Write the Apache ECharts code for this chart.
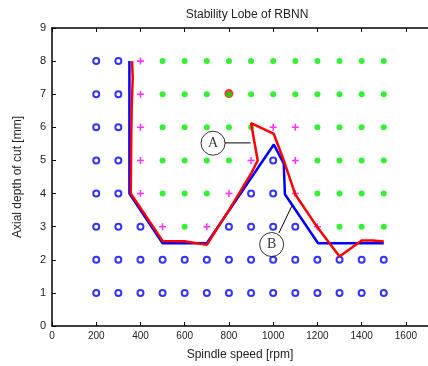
<!DOCTYPE html>
<html>
<head>
<meta charset="utf-8">
<script src="https://cdn.jsdelivr.net/npm/echarts@6/dist/echarts.min.js"></script>
<style>
  html, body { margin: 0; padding: 0; background: #fff; }
  #main { width: 428px; height: 366px; }
</style>
</head>
<body>
<div id="main"></div>
<script>
// grid of test points: speed [rpm] x depth [mm]
const speeds = [200, 300, 400, 500, 600, 700, 800, 900, 1000, 1100, 1200, 1300, 1400, 1500]
const depths = [8, 7, 6, 5, 4, 3, 2, 1]
// o = stable, + = marginal, * = chatter (one string per depth row, one char per speed)
const stateRows = [
  'oo+***********',
  'oo+***********',
  'oo+*****++****',
  'oo+****+o+****',
  'oo+***+oo+****',
  'ooo+*+oooo+***',
  'oooooooooooooo',
  'oooooooooooooo'
]

// stability lobe lines
const blueLobe = [[350, 8], [350, 4], [500, 2.5], [700, 2.5], [1003, 5.48], [1048, 4.9], [1053, 3.98], [1203, 2.5], [1500, 2.5]]
const redLobe = [[362, 8], [365, 7.5], [360, 6.5], [358, 5.5], [357, 4.6], [356, 4.0], [500, 2.57], [600, 2.56], [700, 2.45],
  [800, 3.5], [900, 4.6], [930, 5.0], [900, 6.13], [1003, 5.8], [1048, 5.0], [1100, 3.97], [1200, 2.98], [1300, 2.1],
  [1400, 2.58], [1450, 2.58], [1500, 2.55]]
const redSpot = [[800, 7.02]]

// callouts
const calloutA = { at: [728, 5.52], text: 'A' }
const leaderA = [[782, 5.53], [898, 5.53]]
const calloutB = { at: [993, 2.46], text: 'B' }
const leaderB = [[1026, 2.81], [1084, 3.62]]

const stable = [], marginal = [], chatter = []
stateRows.forEach((row, r) => {
  row.split('').forEach((c, i) => {
    const p = [speeds[i], depths[r]]
    if (c === 'o') stable.push(p)
    else if (c === '+') marginal.push(p)
    else chatter.push(p)
  })
})

const txt = '#222'
const font = 'Liberation Sans, Arial, sans-serif'

const chart = echarts.init(document.getElementById('main'), null, { renderer: 'canvas' })

const axisCommon = {
  axisLine: { show: true, lineStyle: { color: '#000', width: 1.5 } },
  axisTick: { show: true, inside: true, length: 4, lineStyle: { color: '#000' } },
  splitLine: { show: false }
}

const callout = (c) => ({
  type: 'scatter',
  data: [c.at],
  symbol: 'circle',
  symbolSize: 24,
  z: 10,
  itemStyle: { color: '#fff', borderColor: '#000', borderWidth: 1 },
  label: {
    show: true, position: 'inside', formatter: c.text,
    fontFamily: 'Liberation Serif, DejaVu Serif, serif', fontSize: 14, color: '#000'
  },
  silent: true
})

const leader = (d) => ({
  type: 'line', data: d, symbol: 'none', z: 9,
  lineStyle: { color: '#000', width: 1 }
})

chart.setOption({
  animation: false,
  backgroundColor: '#fff',
  title: {
    text: 'Stability Lobe of RBNN',
    left: 242, top: 4, textAlign: 'center',
    textStyle: { fontFamily: font, fontSize: 12, fontWeight: 'normal', color: txt }
  },
  grid: { left: 52, top: 28, width: 380, height: 300 },
  xAxis: [
    Object.assign({
      type: 'value', min: 0, max: 1700, interval: 200,
      name: 'Spindle speed [rpm]', nameLocation: 'middle', nameGap: 23,
      nameTextStyle: { fontFamily: font, fontSize: 12, color: txt },
      axisLabel: {
        fontFamily: font, fontSize: 10, color: txt, margin: 5, showMaxLabel: false,
        formatter: (v) => String(v)
      }
    }, axisCommon),
    Object.assign({
      type: 'value', min: 0, max: 1700, interval: 200, position: 'top',
      axisLabel: { show: false }
    }, axisCommon)
  ],
  yAxis: [
    Object.assign({
      type: 'value', min: 0, max: 9, interval: 1,
      name: 'Axial depth of cut [mm]', nameLocation: 'middle', nameGap: 28,
      nameTextStyle: { fontFamily: font, fontSize: 12, color: txt },
      axisLabel: { fontFamily: font, fontSize: 11, color: txt, margin: 6 }
    }, axisCommon)
  ],
  series: [
    {
      type: 'scatter', data: redSpot, symbol: 'circle', symbolSize: 9, z: 2,
      itemStyle: { color: '#ff0000' }
    },
    {
      type: 'scatter', data: stable, symbol: 'circle', symbolSize: 6, z: 3,
      itemStyle: { color: '#fff', borderColor: '#0000ff', borderWidth: 2 }
    },
    {
      type: 'scatter', data: marginal, symbol: 'path://M3.5,0H5.5V3.5H9V5.5H5.5V9H3.5V5.5H0V3.5H3.5Z', symbolSize: 7, z: 3,
      itemStyle: { color: '#ff00ff' }
    },
    {
      type: 'scatter', data: chatter, symbol: 'circle', symbolSize: 6, z: 3,
      itemStyle: { color: '#00ee00' }
    },
    {
      type: 'line', data: blueLobe, symbol: 'none', z: 4,
      lineStyle: { color: '#0000ff', width: 2.5 }
    },
    {
      type: 'line', data: redLobe, symbol: 'none', z: 5,
      lineStyle: { color: '#ff0000', width: 2.5 }
    },
    leader(leaderA),
    leader(leaderB),
    callout(calloutA),
    callout(calloutB)
  ]
})
</script>
</body>
</html>
